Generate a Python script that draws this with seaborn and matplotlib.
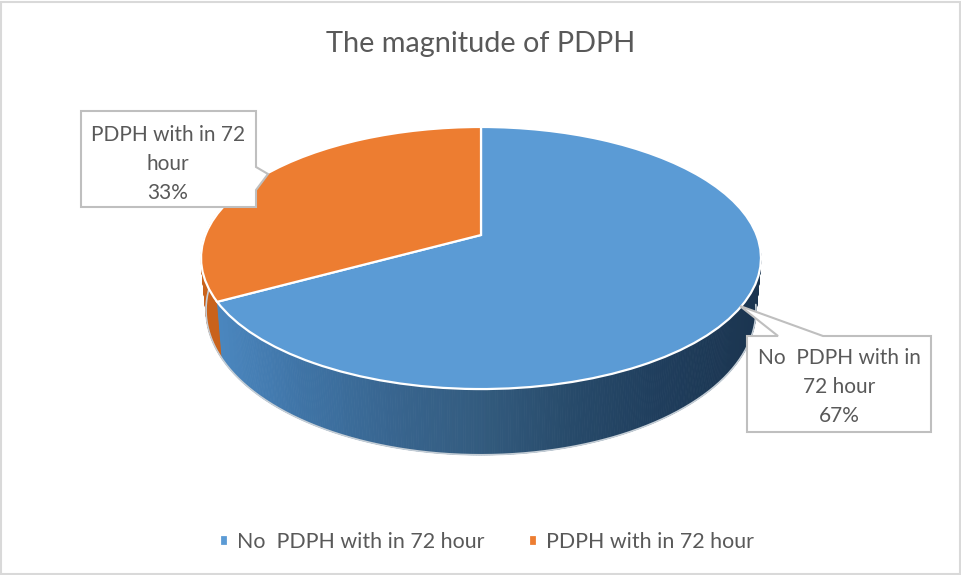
import numpy as np
import seaborn as sns
import matplotlib
matplotlib.use('Agg')
import matplotlib.pyplot as plt
from matplotlib.collections import PolyCollection
from matplotlib.patches import Polygon, Rectangle
from matplotlib.transforms import Transform

# data
categories = ['No  PDPH with in 72 hour', 'PDPH with in 72 hour']
values = [67, 33]
box_labels = ['No  PDPH with in\n72 hour\n67%', 'PDPH with in 72\nhour\n33%']
title = 'The magnitude of PDPH'

top_colors = ['#5b9bd5', '#ed7d31']
orange_side = '#c9621b'
text_color = '#595959'
line_gray = '#bfbfbf'

sns.set_theme(style='white')
plt.rcParams['font.family'] = ['Lato', 'DejaVu Sans']


class Tilt(Transform):
    # perspective of the flat pie onto the page, output is in pixels
    input_dims = 2
    output_dims = 2

    def __init__(self, x0, y0, bx, ay, c):
        super().__init__()
        self.p = (x0, y0, bx, ay, c)

    def transform_non_affine(self, xy):
        x0, y0, bx, ay, c = self.p
        xy = np.asarray(xy)
        d = 1 + c * xy[:, 1]
        return np.column_stack([x0 + bx * xy[:, 0] / d, y0 - ay * xy[:, 1] / d])


top_tilt = Tilt(481, 235, 275.6, 127, 0.1756)
low_tilt = Tilt(481, 284.5, 270.7, 140.4, 0.1756)

fig = plt.figure(figsize=(9.61, 5.75), dpi=100)
ax = fig.add_axes([0, 0, 1, 1])

wedges, _ = ax.pie(values, colors=top_colors, startangle=90, counterclock=False,
                   radius=1, wedgeprops={'edgecolor': 'white', 'linewidth': 1.6, 'zorder': 3})
for w in wedges:
    w.set_transform(top_tilt + ax.transData)

ax.set_xlim(0, 961)
ax.set_ylim(575, 0)
ax.set_aspect('auto')
ax.axis('off')

# side wall of the pie, built from the same slice angles
split = 90 - 360 * values[0] / sum(values)
angles = np.linspace(-192, -8, 401)
unit = np.column_stack([np.cos(np.radians(angles)), np.sin(np.radians(angles))])
up = top_tilt.transform_non_affine(unit)
low = low_tilt.transform_non_affine(unit)

side_pal = sns.blend_palette(['#4c89c2', '#3f74a6', '#38658f', '#335b7e', '#274a6a', '#1f3d5c', '#1b3550'], 128)
polys, cols = [], []
for i in range(len(angles) - 1):
    polys.append([up[i], up[i + 1], low[i + 1], low[i]])
    mid = (angles[i] + angles[i + 1]) / 2
    if mid < split:
        cols.append(orange_side)
    else:
        f = (up[i, 0] - 205) / 555
        cols.append(side_pal[int(np.clip(f, 0, 0.999) * 128)])
ax.add_collection(PolyCollection(polys, facecolors=cols, edgecolors=cols, linewidths=0.6, zorder=2))
ax.plot(low[:, 0], low[:, 1], color='#c5ced6', lw=1.2, zorder=2.5)

# callout boxes
left_box = [(81, 111), (256, 111), (256, 167), (268, 174), (256, 190), (256, 207), (81, 207)]
right_box = [(747, 336), (778, 336), (740, 306), (823, 336), (931, 336), (931, 432), (747, 432)]
for pts in [left_box, right_box]:
    ax.add_patch(Polygon(pts, closed=True, facecolor='white', edgecolor=line_gray,
                         linewidth=1.5, zorder=4))
ax.text(839, 387, box_labels[0], ha='center', va='center', color=text_color,
        fontsize=15, linespacing=1.58, zorder=5)
ax.text(168, 164, box_labels[1], ha='center', va='center', color=text_color,
        fontsize=15, linespacing=1.58, zorder=5)

ax.text(481, 44, title, ha='center', va='center', color=text_color, fontsize=20.8)

ax.legend(wedges, categories, ncol=2, frameon=False, loc='center',
          bbox_to_anchor=(487 / 961, 1 - 542 / 575), fontsize=15.4, labelcolor=text_color,
          handlelength=0.37, handleheight=0.37, handletextpad=0.42, columnspacing=2.09)

# chart border
ax.add_patch(Rectangle((1, 2), 959, 572, fill=False, edgecolor='#d9d9d9', linewidth=1.5, zorder=1))

fig.savefig('out.png', dpi=100)
